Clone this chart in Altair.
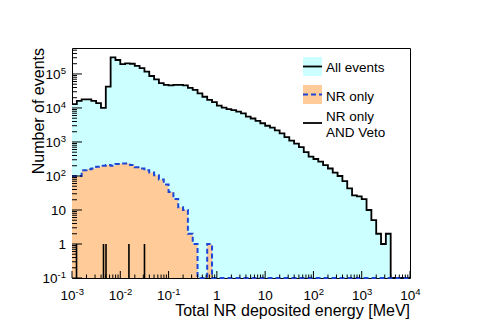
import altair as alt
import numpy as np
import pandas as pd

# ---- data ----
# 70 logarithmic bins, 10 per decade, from 1e-3 to 1e4 MeV
n_bins = 70
lo_exp, hi_exp = -3, 4

all_events = [12900, 16200, 17800, 17800, 16200, 13800, 10000, 42700, 309000, 257000,
              195000, 204000, 200000, 174000, 148000, 117000, 87000, 69000, 54000, 48000,
              46000, 48000, 48000, 46000, 39000, 34000, 27000, 21400, 17400, 14800,
              11700, 10200, 9300, 8700, 7800, 6900, 5600, 4900, 4200, 3550,
              3000, 2630, 2190, 1780, 1380, 1100, 890, 710, 500, 370,
              316, 263, 209, 166, 126, 100, 71, 43, 27, 25,
              21, 10, 5, 2, 1, 2, 0, 0, 0, 0]

nr_only = [100, 100, 148, 158, 166, 186, 200, 209, 200, 224,
           234, 234, 209, 182, 166, 148, 126, 105, 79, 56,
           34, 21, 12, 10, 2, 1, 0, 0, 1, 0,
           0, 0, 0, 0, 0, 0, 0, 0, 0, 0,
           0, 0, 0, 0, 0, 0, 0, 0, 0, 0,
           0, 0, 0, 0, 0, 0, 0, 0, 0, 0,
           0, 0, 0, 0, 0, 0, 0, 0, 0, 0]

veto_energy = [0.00124, 0.00449, 0.00506, 0.0151, 0.0317]
veto_count = [1, 1, 1, 1, 1]

x_label_values = [1e-3, 1e-2, 1e-1, 1, 10, 1e2, 1e3, 1e4]
x_label_bases = ["10", "10", "10", "1", "10", "10", "10", "10"]
x_label_exps = ["-3", "-2", "-1", "", "", "2", "3", "4"]

y_label_values = [1e-1, 1, 10, 1e2, 1e3, 1e4, 1e5]
y_label_bases = ["10", "1", "10", "10", "10", "10", "10"]
y_label_exps = ["-1", "", "", "2", "3", "4", "5"]

x_title = "Total NR deposited energy [MeV]"
y_title = "Number of events"
legend_labels = ["All events", "NR only", "NR only", "AND Veto"]

# ---- build tables ----
edges = 10.0 ** np.linspace(lo_exp, hi_exp, n_bins + 1)
idx = [min(i, n_bins - 1) for i in range(n_bins + 1)]
hist = pd.DataFrame({
    "x": edges,
    "all": [all_events[i] for i in idx],
    "nr": [nr_only[i] for i in idx],
})
veto = pd.DataFrame({"e": veto_energy, "c": veto_count})


def kind(e):
    return "plain" if e == "" else ("neg" if e.startswith("-") else "pos")


xl = pd.DataFrame({"t": x_label_values, "base": x_label_bases, "exp": x_label_exps,
                   "kind": [kind(e) for e in x_label_exps]})
yl = pd.DataFrame({"t": y_label_values, "base": y_label_bases, "exp": y_label_exps,
                   "kind": [kind(e) for e in y_label_exps]})

x_major = [10.0 ** k for k in range(lo_exp, hi_exp + 1)]
x_minor = [m * 10.0 ** k for k in range(lo_exp, hi_exp) for m in range(2, 10)]
y_major = [10.0 ** k for k in range(-1, 6)]
y_minor = [m * 10.0 ** k for k in range(-1, 6) for m in range(2, 10) if m * 10.0 ** k < 5.8e5]

W, H = 338, 230
FONT = "Liberation Sans"
LBL, EXP = 13.5, 9.5

xscale = alt.Scale(type="log", domain=[1e-3, 1e4], nice=False)
yscale = alt.Scale(type="log", domain=[0.1, 5.8e5], nice=False, clamp=True)

base = alt.Chart(hist).transform_calculate(
    all_c="max(datum.all, 1e-4)", nr_c="max(datum.nr, 1e-4)"
)

all_fill = base.mark_area(interpolate="step-after", color="#ccffff", opacity=1).encode(
    x=alt.X("x:Q", scale=xscale, axis=None),
    y=alt.Y("all_c:Q", scale=yscale, axis=None),
    y2=alt.datum(0.1),
)
all_line = base.mark_line(interpolate="step-after", color="black", strokeWidth=1.8).encode(
    x="x:Q", y="all_c:Q"
)
nr_fill = base.mark_area(interpolate="step-after", color="#ffcc99", opacity=1).encode(
    x="x:Q", y="nr_c:Q", y2=alt.datum(0.1)
)
nr_line = base.mark_line(interpolate="step-after", color="#1f45d6", strokeWidth=2,
                         strokeDash=[5, 3]).encode(x="x:Q", y="nr_c:Q")
veto_rules = alt.Chart(veto).mark_rule(color="black", strokeWidth=1.6).encode(
    x="e:Q", y="c:Q", y2=alt.datum(0.1)
)


# inward ticks (ROOT style)
def xticks(vals, length):
    return alt.Chart(pd.DataFrame({"t": vals})).mark_rule(color="black", strokeWidth=1).encode(
        x="t:Q", y=alt.value(H), y2=alt.value(H - length))


def yticks(vals, length):
    return alt.Chart(pd.DataFrame({"t": vals})).mark_rule(color="black", strokeWidth=1).encode(
        y="t:Q", x=alt.value(0), x2=alt.value(length))


ticks = [xticks(x_major, 7), xticks(x_minor, 3.5), yticks(y_major, 10), yticks(y_minor, 5)]


def txt(data, **kw):
    return alt.Chart(data).mark_text(font=FONT, color="black", **kw)


# x tick labels (base + raised exponent)
xlab = [
    txt(xl, align="center", baseline="alphabetic", fontSize=LBL).encode(
        x="t:Q", y=alt.value(H + 22), text="base:N").transform_filter("datum.kind == 'plain'"),
    txt(xl, align="right", baseline="alphabetic", fontSize=LBL, dx=3.5).encode(
        x="t:Q", y=alt.value(H + 22), text="base:N").transform_filter("datum.kind == 'neg'"),
    txt(xl, align="left", baseline="alphabetic", fontSize=EXP, dx=3.5).encode(
        x="t:Q", y=alt.value(H + 17), text="exp:N").transform_filter("datum.kind == 'neg'"),
    txt(xl, align="right", baseline="alphabetic", fontSize=LBL, dx=5.2).encode(
        x="t:Q", y=alt.value(H + 22), text="base:N").transform_filter("datum.kind == 'pos'"),
    txt(xl, align="left", baseline="alphabetic", fontSize=EXP, dx=5.2).encode(
        x="t:Q", y=alt.value(H + 17), text="exp:N").transform_filter("datum.kind == 'pos'"),
]

# y tick labels
ylab = [
    txt(yl, align="right", baseline="alphabetic", fontSize=LBL, dy=5).encode(
        y="t:Q", x=alt.value(-6), text="base:N").transform_filter("datum.kind == 'plain'"),
    txt(yl, align="right", baseline="alphabetic", fontSize=EXP, dy=0).encode(
        y="t:Q", x=alt.value(-6), text="exp:N").transform_filter("datum.kind != 'plain'"),
    txt(yl, align="right", baseline="alphabetic", fontSize=LBL, dy=5).encode(
        y="t:Q", x=alt.value(-11.5), text="base:N").transform_filter("datum.kind == 'pos'"),
    txt(yl, align="right", baseline="alphabetic", fontSize=LBL, dy=5).encode(
        y="t:Q", x=alt.value(-14.5), text="base:N").transform_filter("datum.kind == 'neg'"),
]

one = alt.Data(values=[{"k": 0}])

titles = [
    txt(one, align="right", baseline="alphabetic", fontSize=16).encode(
        x=alt.value(W), y=alt.value(H + 38), text=alt.value(x_title)),
    txt(one, align="right", baseline="alphabetic", fontSize=16, angle=270).encode(
        x=alt.value(-28), y=alt.value(0), text=alt.value(y_title)),
]

# manual legend
lg = []
lg.append(alt.Chart(one).mark_rect(color="#ccffff").encode(
    x=alt.value(231), x2=alt.value(250), y=alt.value(9), y2=alt.value(28)))
lg.append(alt.Chart(one).mark_rule(color="black", strokeWidth=1.8).encode(
    x=alt.value(231), x2=alt.value(250), y=alt.value(18.5)))
lg.append(alt.Chart(one).mark_rect(color="#ffcc99").encode(
    x=alt.value(231), x2=alt.value(250), y=alt.value(37), y2=alt.value(56)))
lg.append(alt.Chart(one).mark_rule(color="#1f45d6", strokeWidth=2, strokeDash=[5, 3]).encode(
    x=alt.value(231), x2=alt.value(250), y=alt.value(46.5)))
lg.append(alt.Chart(one).mark_rule(color="black", strokeWidth=1.8).encode(
    x=alt.value(231), x2=alt.value(250), y=alt.value(75)))
for lab, yy in zip(legend_labels, [20.3, 49.3, 68.7, 84.7]):
    lg.append(txt(one, align="left", baseline="middle", fontSize=13.5).encode(
        x=alt.value(254), y=alt.value(yy), text=alt.value(lab)))

chart = alt.layer(all_fill, all_line, nr_fill, nr_line, veto_rules, *ticks,
                  *xlab, *ylab, *titles, *lg).properties(
    width=W, height=H,
    autosize=alt.AutoSizeParams(type="none"),
    padding={"left": 64, "top": 40, "right": 65, "bottom": 41},
    background="white",
).configure_view(stroke="black", strokeWidth=1)

chart.save("out.html", embed_options={"renderer": "svg", "actions": False})
